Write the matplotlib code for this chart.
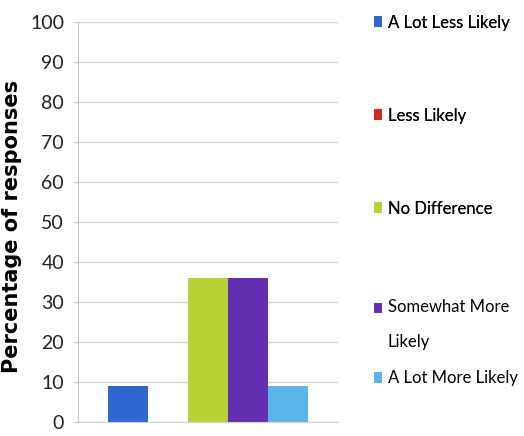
import numpy as np
import matplotlib
matplotlib.use("Agg")
import matplotlib.pyplot as plt

plt.rcParams['font.family'] = ['Lato', 'DejaVu Sans']

# data
categories = ['A Lot Less Likely', 'Less Likely', 'No Difference',
              'Somewhat More\nLikely', 'A Lot More Likely']
values = [9, 0, 36, 36, 9]
colors = ['#2f66d0', '#d42a1e', '#b8d136', '#6230b0', '#5ab6ea']
yticks = [0, 10, 20, 30, 40, 50, 60, 70, 80, 90, 100]

fig = plt.figure(figsize=(5.24, 4.36), dpi=100)
ax = fig.add_axes([78 / 524, 14 / 436, 260 / 524, 400 / 436])

width = 0.2
x = (np.arange(len(values)) - 2) * width
bars = []
for xi, v, c, lab in zip(x, values, colors, categories):
    b = ax.bar(xi, v, width, color=c, label=lab, zorder=2)
    bars.append(b)

ax.set_xlim(-0.65, 0.65)
ax.set_ylim(0, 100)
ax.set_yticks(yticks)
ax.set_yticklabels([str(t) for t in yticks], fontsize=14, color='#222222')
ax.set_xticks([])
ax.yaxis.grid(True, color='#d2d2dc', linewidth=1.0, zorder=0)
ax.set_axisbelow(True)
for s in ['top', 'right']:
    ax.spines[s].set_visible(False)
ax.spines['left'].set_color('#c4c4d0')
ax.spines['bottom'].set_color('#d2d2dc')
ax.tick_params(axis='y', length=3, color='#c4c4d0', pad=7)

ax.set_ylabel('Percentage of responses', fontsize=15, fontweight='bold',
              family=['DejaVu Sans'])
ax.yaxis.set_label_coords(-0.215, 0.49)

# legend in two blocks (Excel spacing is uneven around the wrapped label)
leg1 = fig.legend([bars[i] for i in range(3)], categories[:3],
                  loc='upper left', bbox_to_anchor=(362 / 524, 1 - 3 / 436),
                  frameon=False, fontsize=12, handlelength=0.5,
                  handleheight=0.6, handletextpad=0.35, labelspacing=4.62,
                  borderpad=0.2)
leg2 = fig.legend([bars[i] for i in range(3, 5)], categories[3:],
                  loc='upper left', bbox_to_anchor=(362 / 524, 1 - 287 / 436),
                  frameon=False, fontsize=12, handlelength=0.5,
                  handleheight=0.6, handletextpad=0.35, labelspacing=1.2,
                  borderpad=0.2)
leg2.get_texts()[0].set_linespacing(2.5)
# square sits next to the first line of the wrapped label
h = leg2.legend_handles[0]
h.set_y(h.get_y() + 12.3)
fig.add_artist(leg1)

fig.savefig('out.png', dpi=100)
